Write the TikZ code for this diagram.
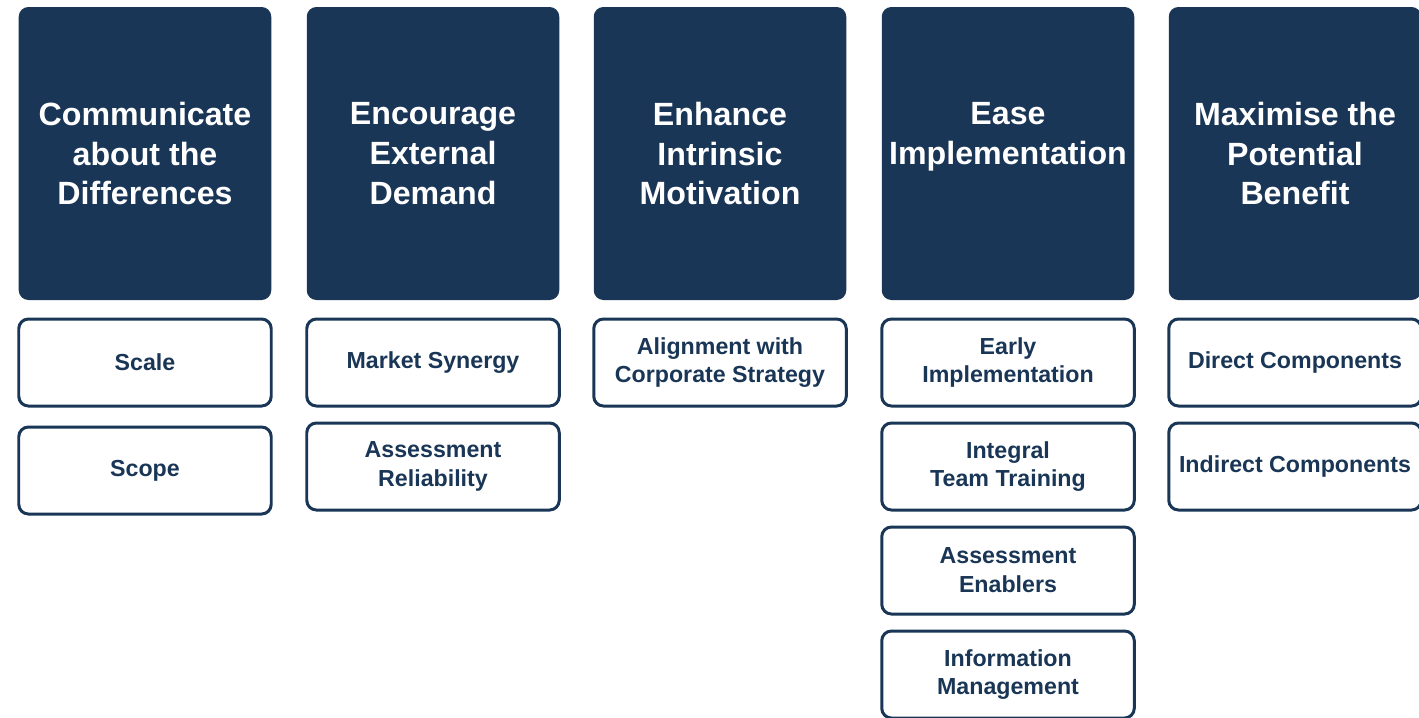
\documentclass[tikz,border=0pt]{standalone}
\usepackage{fontspec}
\setmainfont{Liberation Sans}

\definecolor{NavyColor}{RGB}{26,54,86}
\tikzstyle{base}=[rectangle,
                    rounded corners=5.5pt,
                    minimum width=5.05cm,
                    text centered,
                    align=center]
\tikzstyle{goal}=[base, fill={NavyColor}, text=white, minimum height=5.86cm,
                    font=\fontsize{18.3}{22.7}\selectfont\bfseries]
\tikzstyle{lever}=[base, draw={NavyColor}, line width=1.7pt, fill=white, text={NavyColor},
                    minimum height=1.74cm, font=\fontsize{13.2}{16.4}\selectfont\bfseries]

\begin{document}
\begin{tikzpicture}
    \useasboundingbox (0.0, 0.0) rectangle (28.38, -14.34);
    \clip (0.0, 0.0) rectangle (28.38, -14.34);

      % goals
      \node at ( 2.90, -3.07) (communicate) [goal]  {Communicate\\about the\\Differences};
      \node at ( 8.66, -3.07) (encourage)   [goal]  {Encourage\\External\\Demand};
      \node at (14.40, -3.07) (enhance)     [goal]  {Enhance\\Intrinsic\\Motivation};
      \node at (20.16, -3.07) (ease)        [goal]  {Ease\\Implementation\\~};
      \node at (25.90, -3.07) (maximise)    [goal]  {Maximise the\\Potential\\Benefit};

      % levers
      \node at ( 2.90, -7.25) (scale)       [lever] {Scale};
      \node at ( 2.90, -9.41) (scope)       [lever] {Scope};
      \node at ( 8.66, -7.25) (synergy)     [lever] {Market Synergy};
      \node at ( 8.66, -9.33) (reliability) [lever] {Assessment\\Reliability};
      \node at (14.40, -7.25) (alignment)   [lever] {Alignment with\\Corporate Strategy};
      \node at (20.16, -7.25) (early)       [lever] {Early\\Implementation};
      \node at (20.16, -9.33) (training)    [lever] {Integral\\Team Training};
      \node at (20.16,-11.41) (enablers)    [lever] {Assessment\\Enablers};
      \node at (20.16,-13.49) (information) [lever] {Information\\Management};
      \node at (25.90, -7.25) (direct)      [lever] {Direct Components};
      \node at (25.90, -9.33) (indirect)    [lever] {Indirect Components};
  \end{tikzpicture}
\end{document}
